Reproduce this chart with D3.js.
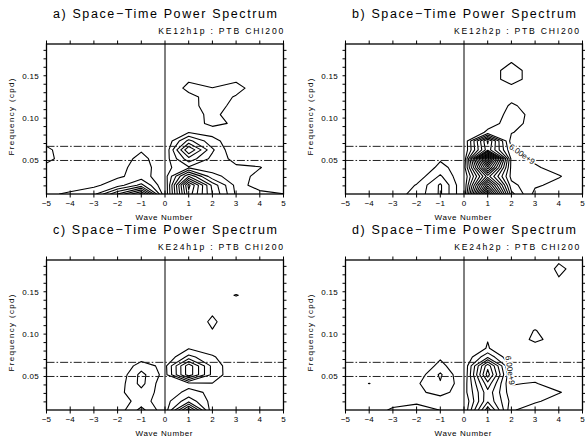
<!DOCTYPE html>
<html>
<head>
<meta charset="utf-8">
<script src="https://cdn.jsdelivr.net/npm/d3@7"></script>
<style>
  body { margin: 0; background: #fff; }
  svg { display: block; font-family: "Liberation Sans", Arial, sans-serif; }
</style>
</head>
<body>
<svg id="chart" width="585" height="439"></svg>
<script>
// Grid: zonal wave numbers (columns) and frequencies in cycles per day (rows)
const waveNumbers = [-5, -4, -3, -2, -1, 0, 1, 2, 3, 4, 5];
const frequencies = [0, 1/96, 2/96, 3/96, 4/96, 5/96, 6/96, 7/96, 8/96, 9/96,
                     10/96, 11/96, 12/96, 13/96, 14/96, 15/96, 16/96, 17/96, 18/96];
const xTicks = [-5, -4, -3, -2, -1, 0, 1, 2, 3, 4, 5];
const yTicks = [0.05, 0.10, 0.15];
const yMinorTicks = [0.02, 0.03, 0.04, 0.05, 0.06, 0.07, 0.08, 0.09, 0.10,
                     0.11, 0.12, 0.13, 0.14, 0.15, 0.16, 0.17, 0.18];
// 20-day and 15-day periods
const periodLines = [1/20, 1/15];
// contour levels, in units of 1e9
const levels = [6, 12, 18, 24, 30, 36, 42, 48, 54, 60, 66, 72, 78, 84, 90];
const levelUnit = 1e9;

const titles = ["a) Space\u2212Time Power Spectrum", "b) Space\u2212Time Power Spectrum",
                "c) Space\u2212Time Power Spectrum", "d) Space\u2212Time Power Spectrum"];
const runs = ["KE12h1p : PTB CHI200", "KE12h2p : PTB CHI200",
              "KE24h1p : PTB CHI200", "KE24h2p : PTB CHI200"];

// Power (1e9 units); rows run from the highest frequency (18/96) down to 0
const powerA = [
  [0,   0, 0,   0,   0,   0,   0,   0,   0,    0,   0],
  [0,   0, 0,   0,   0,   0,   0,   0,   0,    0,   0],
  [0,   0, 0,   0,   0,   0,   0,   0,   0,    0,   0],
  [0,   0, 0,   0,   0,   0,   0,   0,   0,    0,   0],
  [0,   0, 0,   0,   0,   0,   5,   0,   5,    0,   0],
  [0,   0, 0,   0,   0,   0,   8,   6.3, 8,    2.7, 0],
  [0,   0, 0,   0,   0,   0,   4,   8.8, 5.5,  0,   0],
  [0,   0, 0,   0,   0,   0,   4.5, 8,   4.67, 0,   0],
  [0,   0, 0,   0,   0,   0,   3.4, 7.5, 3,    0,   0],
  [0,   0, 0,   0,   0,   0,   4,   7,   5.4,  0,   0],
  [0,   0, 0,   0,   0,   0,   5.5, 4,   2,    0,   0],
  [3,   0, 0,   0,   0,   0,   20,  8,   2,    0,   0],
  [8,   0, 0,   0,   5.5, 0,   36,  13,  0,    0,   0],
  [9,   0, 0,   3.3, 7.5, 2.5, 22,  10,  4,    3,   0],
  [3,   0, 0,   4.9, 7.5, 4,   11,  9,   7,    6.3, 2],
  [3,   2, 3,   5.2, 8,   3,   36,  14,  9,    4,   0],
  [3,   3, 4.8, 9,   20,  0,   62,  28,  10,   2,   0],
  [4.8, 7, 10,  30,  50,  0,   58,  30,  11,   8.5, 6.1],
  [4.8, 7, 10,  30,  50,  0,   58,  30,  11,   8.5, 6.1]
];

const powerB = [
  [0, 0, 0,   0,   0,   0, 0,   0,   0,   0,   0],
  [0, 0, 0,   0,   0,   0, 0,   3,   0,   0,   0],
  [0, 0, 0,   0,   0,   0, 0,   5.9, 2,   0,   0],
  [0, 0, 0,   0,   0,   0, 4.8, 7,   4.8, 0,   0],
  [0, 0, 0,   0,   0,   0, 4.8, 7,   4.8, 0,   0],
  [0, 0, 0,   0,   0,   0, 0,   5.3, 2,   0,   0],
  [0, 0, 0,   0,   0,   0, 0,   4,   1,   0,   0],
  [0, 0, 0,   0,   0,   0, 0,   7,   3,   0,   0],
  [0, 0, 0,   0,   0,   0, 2,   8,   4.5, 0,   0],
  [0, 0, 0,   0,   0,   0, 4,   8,   4,   0,   0],
  [0, 0, 0,   0,   0,   0, 7,   6.5, 2,   0,   0],
  [0, 0, 0,   0,   0,   0, 43,  3,   1,   0,   0],
  [0, 0, 0,   0,   0,   0, 40,  7,   2,   0,   0],
  [0, 0, 0,   0,   5.3, 0, 95,  10,  4.5, 1,   0],
  [0, 0, 0,   1,   7.5, 3, 70,  10,  7,   3,   0],
  [0, 0, 0,   2,   13,  0, 45,  10,  7,   6.5, 2],
  [0, 0, 0,   6.5, 19,  0, 70,  14,  7,   4,   0],
  [0, 0, 3.2, 8,   19,  0, 95,  20,  4,   2,   0],
  [0, 0, 3.2, 8,   19,  0, 95,  20,  4,   2,   0]
];

const powerC = [
  [0, 0, 0, 0,    0,  0,   0,   0,   0,   0, 0],
  [0, 0, 0, 0,    0,  0,   0,   0,   0,   0, 0],
  [0, 0, 0, 0,    0,  0,   0,   0,   0,   0, 0],
  [0, 0, 0, 0,    0,  0,   0,   0,   3,   0, 0],
  [0, 0, 0, 0,    0,  0,   0,   3,   6.3, 3, 0],
  [0, 0, 0, 0,    0,  0,   0,   0,   3,   0, 0],
  [0, 0, 0, 0,    0,  0,   0,   5.5, 0,   0, 0],
  [0, 0, 0, 0,    0,  0,   2,   7,   2,   0, 0],
  [0, 0, 0, 0,    0,  0,   1,   5.8, 1,   0, 0],
  [0, 0, 0, 0,    0,  0,   2,   0,   0,   0, 0],
  [0, 0, 0, 0,    0,  0,   5.5, 2,   0,   0, 0],
  [0, 0, 0, 0,    3,  0,   14,  7,   0,   0, 0],
  [0, 0, 0, 0,    9,  4,   34,  10,  0.7, 0, 0],
  [0, 0, 0, 0.67, 14, 3.5, 34,  10,  1,   0, 0],
  [0, 0, 0, 2.2,  14, 1,   4,   5.8, 0,   0, 0],
  [0, 0, 0, 4.4,  10, 2.7, 7.5, 5,   0,   0, 0],
  [0, 0, 0, 3.35, 8,  3.1, 16,  3.5, 0,   0, 0],
  [0, 0, 0, 2.2,  14, 1.7, 40,  1,   0,   0, 0],
  [0, 0, 0, 2.2,  14, 1.7, 40,  1,   0,   0, 0]
];

const powerD = [
  [0, 0,    0,   0,    0,    0,   0,   0,   0,   5.3, 0],
  [0, 0,    0,   0,    0,    0,   0,   0,   1.7, 7,   3.7],
  [0, 0,    0,   0,    0,    0,   0,   0,   0,   5.9, 0],
  [0, 0,    0,   0,    0,    0,   0,   0,   0,   0,   0],
  [0, 0,    0,   0,    0,    0,   0,   0,   0,   0,   0],
  [0, 0,    0,   0,    0,    0,   0,   0,   0,   0,   0],
  [0, 0,    0,   0,    0,    0,   0,   0,   0,   0,   0],
  [0, 0,    0,   0,    0,    0,   0,   0,   3,   0,   0],
  [0, 0,    0,   0,    0,    0,   3,   2,   6.3, 2,   0],
  [0, 0,    0,   0,    0,    0,   5.8, 3,   7,   4,   0],
  [0, 0,    0,   0,    0,    0,   6.5, 0,   4,   0,   0],
  [0, 0,    0,   0,    5.1,  0,   17,  0,   0,   0,   0],
  [0, 0,    0,   0,    8,    0,   40,  3,   0,   0,   0],
  [0, 0,    0,   1.9,  13,   0,   45,  5,   3,   0,   0],
  [0, 6.2,  0,   5.1,  11.5, 2.2, 34,  5.5, 6.5, 2,   0],
  [0, 0,    0,   4.67, 8,    3,   28,  8,   7.5, 6.5, 2],
  [0, 0,    3.5, 5,    3,    0,   29,  10,  7,   3,   0],
  [0, 2.45, 7,   8,    5.9,  0,   40,  7,   2,   0,   0],
  [0, 2.45, 7,   8,    5.9,  0,   40,  7,   2,   0,   0]
];

// Labelled contour per panel: level and the spot (wave number, frequency) it is written near
const labelLevels = [null, 6, null, 6];
const labelSpots = [null, [2.36, 0.054], null, [1.86, 0.057]];

const grids = [powerA, powerB, powerC, powerD];

// Panel frames on the page; sx is where the run name ends
const layout = [
  { x0: 46.5,  x1: 283.5, y0: 44,  y1: 194, sx: 283.3 },
  { x0: 345.5, x1: 582.5, y0: 44,  y1: 194, sx: 579 },
  { x0: 46.5,  x1: 283.5, y0: 260, y1: 410, sx: 283 },
  { x0: 345.5, x1: 582.5, y0: 260, y1: 410, sx: 579.3 }
];

const svg = d3.select("#chart");
const fmtY = d3.format(".2f");
const fmtX = d3.format("d");

layout.forEach((L, p) => {
  const g = svg.append("g");
  const xs = d3.scaleLinear()
    .domain([waveNumbers[0], waveNumbers[waveNumbers.length - 1]])
    .range([L.x0, L.x1]);
  const ys = d3.scaleLinear()
    .domain([frequencies[1], frequencies[frequencies.length - 1]])
    .range([L.y1, L.y0]);

  const nx = waveNumbers.length, ny = frequencies.length;
  const df = frequencies[1] - frequencies[0];
  const rows = grids[p];
  const values = [];
  for (let j = 0; j < ny; j++) {
    const row = rows[ny - 1 - j];
    for (let i = 0; i < nx; i++) values.push(row[i]);
  }
  // grid index space -> (wave number, frequency)
  const toData = (x, y) => [waveNumbers[0] + (x - 0.5), frequencies[0] + (y - 0.5) * df];
  const proj = d3.geoTransform({
    point(x, y) {
      const d = toData(x, y);
      this.stream.point(xs(d[0]), ys(d[1]));
    }
  });
  const path = d3.geoPath(proj);

  const clipId = "clip" + p;
  svg.append("clipPath").attr("id", clipId)
    .append("rect")
    .attr("x", L.x0).attr("y", L.y0)
    .attr("width", L.x1 - L.x0).attr("height", L.y1 - L.y0);

  const plot = g.append("g").attr("clip-path", `url(#${clipId})`);

  const contours = d3.contours().size([nx, ny]).thresholds(levels)(values);
  plot.selectAll("path.iso")
    .data(contours)
    .join("path")
    .attr("class", "iso")
    .attr("d", path)
    .attr("fill", "none")
    .attr("stroke", "#000")
    .attr("stroke-width", 1.1)
    .attr("stroke-linejoin", "round");

  // zero wave number line
  plot.append("line")
    .attr("x1", xs(0)).attr("x2", xs(0))
    .attr("y1", L.y0).attr("y2", L.y1)
    .attr("stroke", "#000").attr("stroke-width", 1);

  // 20- and 15-day period lines
  plot.selectAll("line.period")
    .data(periodLines)
    .join("line")
    .attr("class", "period")
    .attr("x1", L.x0).attr("x2", L.x1)
    .attr("y1", d => ys(d)).attr("y2", d => ys(d))
    .attr("stroke", "#222").attr("stroke-width", 1)
    .attr("stroke-dasharray", "8 2 1.6 2");

  // contour label
  if (labelLevels[p] !== null) {
    const lev = labelLevels[p];
    const c = contours.find(cc => cc.value === lev);
    const tx = xs(labelSpots[p][0]), ty = ys(labelSpots[p][1]);
    let best = null, bestD = Infinity;
    c.coordinates.forEach(poly => poly.forEach(ring => {
      for (let i = 1; i < ring.length; i++) {
        const a = toData(ring[i - 1][0], ring[i - 1][1]);
        const b = toData(ring[i][0], ring[i][1]);
        const ax = xs(a[0]), ay = ys(a[1]), bx = xs(b[0]), by = ys(b[1]);
        const vx = bx - ax, vy = by - ay;
        const len2 = vx * vx + vy * vy || 1;
        let t = ((tx - ax) * vx + (ty - ay) * vy) / len2;
        t = Math.max(0, Math.min(1, t));
        const px = ax + t * vx, py = ay + t * vy;
        const d = (px - tx) ** 2 + (py - ty) ** 2;
        if (d < bestD) { bestD = d; best = { px, py, ang: Math.atan2(vy, vx) * 180 / Math.PI }; }
      }
    }));
    let ang = best.ang;
    if (ang > 90) ang -= 180;
    if (ang < -90) ang += 180;
    g.append("text")
      .attr("transform", `translate(${best.px},${best.py}) rotate(${ang})`)
      .attr("text-anchor", "middle")
      .attr("dy", "0.35em")
      .attr("font-size", 8)
      .attr("stroke", "#fff").attr("stroke-width", 3)
      .attr("paint-order", "stroke")
      .attr("fill", "#000")
      .text((lev * levelUnit).toExponential(2));
  }

  // frame
  g.append("rect")
    .attr("x", L.x0).attr("y", L.y0)
    .attr("width", L.x1 - L.x0).attr("height", L.y1 - L.y0)
    .attr("fill", "none").attr("stroke", "#000").attr("stroke-width", 1.3);

  // x ticks (top outward, bottom across the frame)
  g.selectAll("line.xt").data(xTicks).join("line")
    .attr("x1", d => xs(d)).attr("x2", d => xs(d))
    .attr("y1", L.y0).attr("y2", L.y0 - 3.5)
    .attr("stroke", "#000").attr("stroke-width", 1);
  g.selectAll("line.xb").data(xTicks).join("line")
    .attr("x1", d => xs(d)).attr("x2", d => xs(d))
    .attr("y1", L.y1 - 3.5).attr("y2", L.y1 + 3.5)
    .attr("stroke", "#000").attr("stroke-width", 1);

  // y ticks on both sides
  g.selectAll("line.yl").data(yMinorTicks).join("line")
    .attr("x1", L.x0).attr("x2", L.x0 - 3)
    .attr("y1", d => ys(d)).attr("y2", d => ys(d))
    .attr("stroke", "#000").attr("stroke-width", 1);
  g.selectAll("line.yr").data(yMinorTicks).join("line")
    .attr("x1", L.x1).attr("x2", L.x1 + 3)
    .attr("y1", d => ys(d)).attr("y2", d => ys(d))
    .attr("stroke", "#000").attr("stroke-width", 1);

  // tick labels
  g.selectAll("text.xl").data(xTicks).join("text")
    .attr("x", d => xs(d)).attr("y", L.y1 + 12)
    .attr("text-anchor", "middle")
    .attr("font-size", 8)
    .text(d => fmtX(d));
  g.selectAll("text.yl").data(yTicks).join("text")
    .attr("x", L.x0 - 7.5).attr("y", d => ys(d))
    .attr("dy", "0.35em")
    .attr("text-anchor", "end")
    .attr("font-size", 8)
    .attr("letter-spacing", 0.3)
    .text(d => fmtY(d));

  // axis titles
  const cx = (L.x0 + L.x1) / 2;
  g.append("text")
    .attr("x", cx - 1).attr("y", L.y1 + 25.5)
    .attr("text-anchor", "middle")
    .attr("font-size", 8)
    .attr("textLength", 57).attr("lengthAdjust", "spacing")
    .text("Wave Number");
  g.append("text")
    .attr("transform", `translate(${L.x0 - 33},${(L.y0 + L.y1) / 2 - 2}) rotate(-90)`)
    .attr("text-anchor", "middle")
    .attr("font-size", 8)
    .attr("textLength", 77).attr("lengthAdjust", "spacing")
    .text("Frequency (cpd)");

  // titles
  g.append("text")
    .attr("x", cx).attr("y", L.y0 - 26)
    .attr("text-anchor", "middle")
    .attr("font-size", 12.5)
    .attr("textLength", 224).attr("lengthAdjust", "spacing")
    .text(titles[p]);
  g.append("text")
    .attr("x", L.sx).attr("y", L.y0 - 10.5)
    .attr("text-anchor", "end")
    .attr("font-size", 8.6)
    .attr("textLength", 125).attr("lengthAdjust", "spacing")
    .text(runs[p]);
});
</script>
</body>
</html>
